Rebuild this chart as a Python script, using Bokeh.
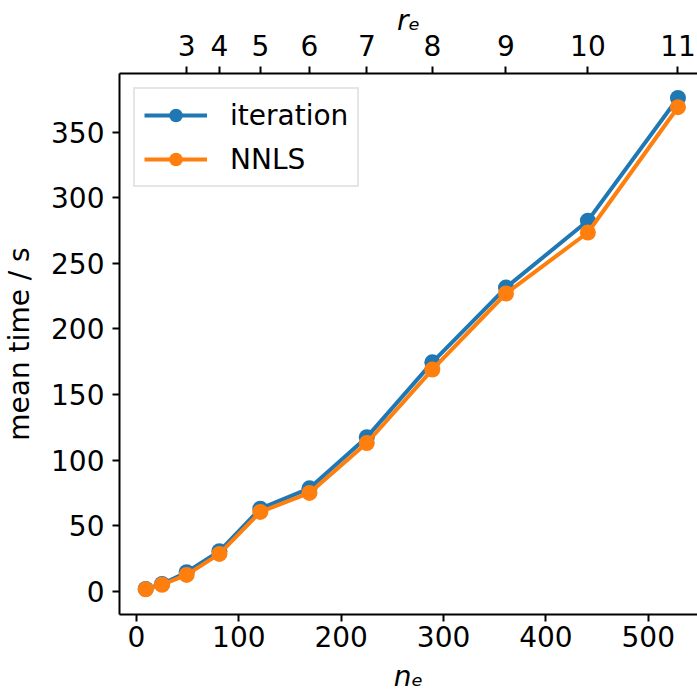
from bokeh.plotting import figure
from bokeh.models import LinearAxis, FixedTicker, Range1d, Legend, LegendItem
from bokeh.embed import file_html
from bokeh.resources import INLINE

# data
n_e = [9, 25, 49, 81, 121, 169, 225, 289, 361, 441, 529]
iteration = [1.8, 5.6, 14.5, 30.5, 63.0, 78.5, 117.5, 174.5, 231.5, 282.5, 376.0]
nnls = [1.5, 5.0, 12.5, 28.5, 60.5, 75.0, 113.0, 169.0, 227.0, 273.5, 369.0]

r_labels = ["3", "4", "5", "6", "7", "8", "9", "10", "11"]
r_tick_pos = [49, 81, 121, 169, 225, 289, 361, 441, 529]
x_ticks = [0, 100, 200, 300, 400, 500]
y_ticks = [0, 50, 100, 150, 200, 250, 300, 350]

FONT = "DejaVu Sans"
FS = "28px"
BLUE = "#1f77b4"
ORANGE = "#ff7f0e"

X0, X1 = -16.6, 548.1
Y0, Y1 = -17.7, 394.7
p = figure(width=697, height=698, output_backend="svg", toolbar_location=None,
           x_range=Range1d(X0, X1), y_range=Range1d(Y0, Y1),
           min_border_left=119, min_border_right=0, min_border_top=73, min_border_bottom=84,
           x_axis_label="nₑ", y_axis_label="mean time / s")
p.outline_line_color = None
p.grid.visible = False
p.background_fill_color = "white"
p.border_fill_color = "white"

def style_axis(ax):
    ax.axis_line_width = 2
    ax.axis_line_color = "black"
    ax.major_tick_line_width = 2
    ax.major_tick_line_color = "black"
    ax.major_tick_in = 0
    ax.major_tick_out = 7
    ax.minor_tick_line_color = None
    ax.major_label_text_font = FONT
    ax.major_label_text_font_size = FS
    ax.major_label_text_color = "black"
    ax.axis_label_text_font = FONT
    ax.axis_label_text_font_size = FS
    ax.axis_label_text_color = "black"

xa = p.xaxis[0]
style_axis(xa)
xa.ticker = FixedTicker(ticks=x_ticks)
xa.major_label_standoff = 4
xa.axis_label_standoff = 10
xa.axis_label_text_font_style = "italic"

ya = p.yaxis[0]
style_axis(ya)
ya.ticker = FixedTicker(ticks=y_ticks)
ya.major_label_standoff = 8
ya.axis_label_standoff = 12
ya.axis_label_text_font_style = "normal"

top = LinearAxis(axis_label="rₑ")
style_axis(top)
top.ticker = FixedTicker(ticks=r_tick_pos)
top.major_label_overrides = {pos: lab for pos, lab in zip(r_tick_pos, r_labels)}
top.major_label_standoff = 11
top.axis_label_standoff = -5
top.axis_label_text_font_style = "italic"
p.add_layout(top, "above")

l1 = p.line(n_e, iteration, line_color=BLUE, line_width=4)
s1 = p.scatter(n_e, iteration, size=16, fill_color=BLUE, line_color=BLUE, line_width=0)
l2 = p.line(n_e, nnls, line_color=ORANGE, line_width=4)
s2 = p.scatter(n_e, nnls, size=16, fill_color=ORANGE, line_color=ORANGE, line_width=0)

legend = Legend(items=[LegendItem(label="iteration", renderers=[l1, s1]),
                       LegendItem(label="NNLS", renderers=[l2, s2])],
                location="top_left")
legend.margin = 14
legend.padding = 9
legend.spacing = 10
legend.glyph_width = 63
legend.glyph_height = 34
legend.label_height = 34
legend.label_standoff = 23
legend.label_text_font = FONT
legend.label_text_font_size = FS
legend.label_text_color = "black"
legend.border_line_color = "#cccccc"
legend.border_line_width = 2
legend.background_fill_color = "white"
legend.background_fill_alpha = 0.8
p.add_layout(legend, "center")

open("out.html", "w").write(file_html(p, INLINE))
